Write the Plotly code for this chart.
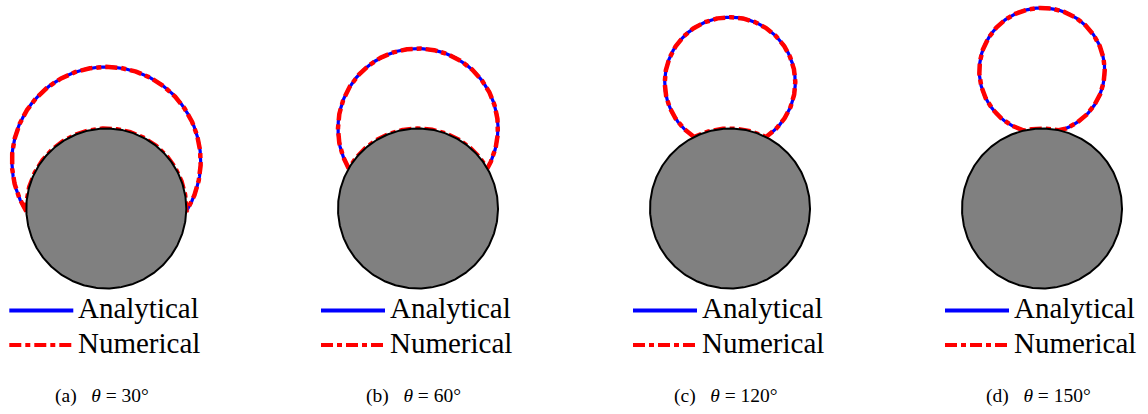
import numpy as np
import plotly.graph_objects as go

# ---------------- data ----------------
panel_labels = ["(a)", "(b)", "(c)", "(d)"]
contact_angles_deg = [30, 60, 120, 150]
droplet_radii = [1.18, 1.0, 0.816, 0.784]   # droplet radius / particle radius
particle_radius = 1.0
series_names = ["Analytical", "Numerical"]

# ---------------- layout constants ----------------
W, H = 1148, 414
PX = 80.0                      # pixels per particle radius
centers_px = [106.3, 418, 730, 1042]
cy_px = 208.5
half_w = 104.0

BLUE = "#0000FF"
RED = "#FF0000"
RED_DASH = "12px,4px,5px,4px"
SERIF = "Liberation Serif, Times New Roman, serif"

fig = go.Figure()
layout_axes = {}
shapes = []
annotations = []


def u(px):
    return px / PX


for k, (lab, theta, r) in enumerate(zip(panel_labels, contact_angles_deg, droplet_radii)):
    th = np.radians(theta)
    R = particle_radius
    d = np.sqrt(R**2 + r**2 - 2 * R * r * np.cos(th))
    yp = (d**2 - r**2 + R**2) / (2 * d)
    xp = np.sqrt(R**2 - yp**2)
    phi_c = np.arctan2(xp, yp - d)
    alpha_c = np.arctan2(xp, yp)

    phi = np.linspace(-phi_c, phi_c, 500)
    lvx = r * np.sin(phi)
    lvy = d + r * np.cos(phi)
    alpha = np.linspace(alpha_c, -alpha_c, 300)
    slx = R * np.sin(alpha)
    sly = R * np.cos(alpha)

    xa = "x" if k == 0 else f"x{k+1}"
    ya = "y" if k == 0 else f"y{k+1}"

    # analytical: liquid-vapour interface
    fig.add_trace(go.Scatter(x=lvx, y=lvy, mode="lines", xaxis=xa, yaxis=ya,
                             line=dict(color=BLUE, width=3.2), showlegend=False,
                             name=series_names[0], hoverinfo="skip"))
    # numerical: closed droplet contour
    nx = np.concatenate([lvx, slx])
    ny = np.concatenate([lvy, sly])
    fig.add_trace(go.Scatter(x=nx, y=ny, mode="lines", xaxis=xa, yaxis=ya,
                             line=dict(color=RED, width=4.5, dash=RED_DASH),
                             showlegend=False, name=series_names[1], hoverinfo="skip"))
    # particle
    t = np.linspace(0, 2 * np.pi, 400)
    fig.add_trace(go.Scatter(x=R * np.cos(t), y=R * np.sin(t), mode="lines", fill="toself",
                             fillcolor="#808080", xaxis=xa, yaxis=ya,
                             line=dict(color="black", width=2), showlegend=False,
                             hoverinfo="skip"))

    cx = centers_px[k]
    dom = [(cx - half_w) / W, (cx + half_w) / W]
    ax_key = "xaxis" if k == 0 else f"xaxis{k+1}"
    ay_key = "yaxis" if k == 0 else f"yaxis{k+1}"
    layout_axes[ax_key] = dict(domain=dom, range=[-u(half_w), u(half_w)], visible=False,
                               fixedrange=True, anchor=ya)
    layout_axes[ay_key] = dict(domain=[0, 1], range=[-u(H - cy_px), u(cy_px)], visible=False,
                               fixedrange=True, anchor=xa)

    # legend (sample lines + labels)
    y_an = u(cy_px - 310.5)
    y_nu = u(cy_px - 345.0)
    shapes.append(dict(type="line", xref=xa, yref=ya, x0=u(-97), x1=u(-33), y0=y_an, y1=y_an,
                       line=dict(color=BLUE, width=4)))
    shapes.append(dict(type="line", xref=xa, yref=ya, x0=u(-97), x1=u(-33), y0=y_nu, y1=y_nu,
                       line=dict(color=RED, width=4, dash=RED_DASH)))
    for name, yy in zip(series_names, [u(cy_px - 308.0), u(cy_px - 343.0)]):
        annotations.append(dict(xref=xa, yref=ya, x=u(-30), y=yy, text=name, showarrow=False,
                                xanchor="left", yanchor="middle",
                                font=dict(family=SERIF, size=29, color="black")))
    # caption
    annotations.append(dict(xref=xa, yref=ya, x=u(-4), y=u(cy_px - 396), showarrow=False,
                            xanchor="center", yanchor="middle",
                            text=f"{lab}&nbsp;&nbsp;&nbsp;<i>θ</i>&nbsp;=&nbsp;{theta}°",
                            font=dict(family=SERIF, size=19.5, color="black")))

fig.update_layout(width=W, height=H, margin=dict(l=0, r=0, t=0, b=0),
                  paper_bgcolor="white", plot_bgcolor="white",
                  shapes=shapes, annotations=annotations, showlegend=False,
                  **layout_axes)

fig.write_html("out.html")
